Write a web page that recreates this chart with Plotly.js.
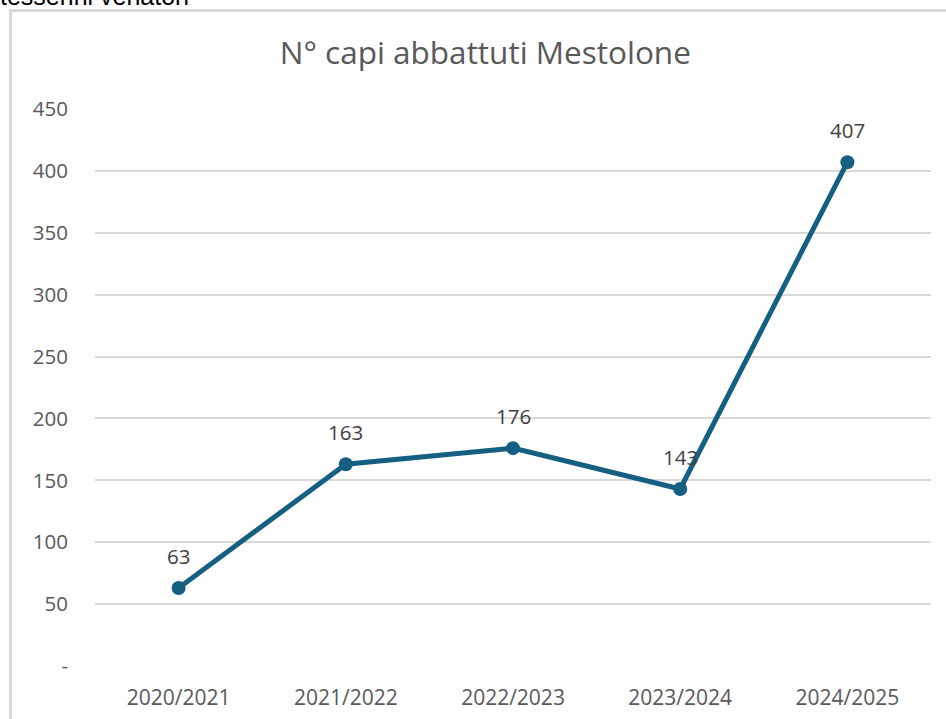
<!DOCTYPE html>
<html>
<head>
<meta charset="utf-8">
<script src="https://cdn.plot.ly/plotly-3.0.1.min.js"></script>
<style>
html,body{margin:0;padding:0;background:#fff;overflow:hidden;}
#wrap{position:relative;width:946px;height:719px;overflow:hidden;}
#chart{position:absolute;left:0;top:0;width:946px;height:719px;}
#frame{position:absolute;left:9px;top:9px;width:1000px;height:800px;border:3px solid #d9d9d9;box-sizing:border-box;pointer-events:none;}
#cut{position:absolute;left:0px;top:-18px;font-family:"Liberation Sans",Arial,sans-serif;font-size:25px;color:#000;white-space:nowrap;}
</style>
</head>
<body>
<div id="wrap">
<div id="cut">tesserini venatori</div>
<div id="frame"></div>
<div id="chart"></div>
</div>
<script>
const seasons = ["2020/2021","2021/2022","2022/2023","2023/2024","2024/2025"];
const captured = [63,163,176,143,407];
const yTickVals = [0,50,100,150,200,250,300,350,400,450];
const yTickText = ["-","50","100","150","200","250","300","350","400","450"];
const chartTitle = "N° capi abbattuti Mestolone";

const FONT = "Open Sans, Noto Sans, sans-serif";
const LINE = "#156082";

const trace = {
  x: seasons,
  y: captured,
  type: "scatter",
  mode: "lines+markers",
  line: {color: LINE, width: 5},
  marker: {color: LINE, size: 14},
  hoverinfo: "skip",
  cliponaxis: false
};

const annotations = seasons.map((s,i)=>({
  x: s, y: captured[i], xref: "x", yref: "y",
  text: String(captured[i]),
  showarrow: false,
  yshift: 32,
  font: {family: FONT, size: 20.5, color: "#404040"}
}));

const layout = {
  width: 946, height: 719,
  paper_bgcolor: "rgba(0,0,0,0)",
  plot_bgcolor: "rgba(0,0,0,0)",
  margin: {l: 95, r: 15, t: 109, b: 53},
  showlegend: false,
  title: {text: chartTitle, x: 0.513, xanchor: "center", y: 0.926, yanchor: "middle",
          font: {family: FONT, size: 31.5, color: "#595959"}},
  xaxis: {
    type: "category",
    range: [-0.5, 4.5],
    showgrid: false, zeroline: false,
    showline: false,
    ticks: "",
    tickfont: {family: FONT, size: 21, color: "#595959"},
    ticklabelstandoff: 17,
    fixedrange: true
  },
  yaxis: {
    range: [0, 450],
    tickvals: yTickVals, ticktext: yTickText,
    showgrid: true, gridcolor: "#d9d9d9", gridwidth: 2,
    zeroline: false, showline: false, ticks: "",
    tickfont: {family: FONT, size: 20.5, color: "#595959"},
    ticklabelstandoff: 26,
    fixedrange: true
  },
  annotations: annotations
};

Plotly.newPlot("chart", [trace], layout, {displayModeBar: false, staticPlot: true});
</script>
</body>
</html>
